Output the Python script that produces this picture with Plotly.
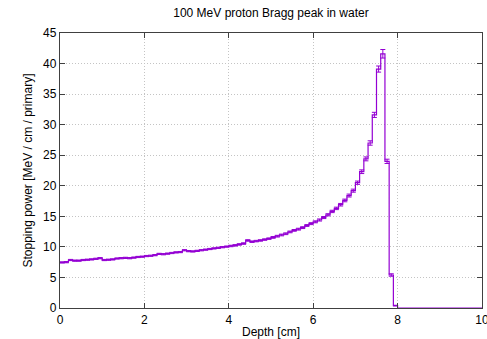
import plotly.graph_objects as go

# Bin left edges (cm), bin width 0.1 cm, 0..10 cm
bin_width = 0.1
n_bins = 100
depth_edges = [round(i * bin_width, 1) for i in range(n_bins + 1)]

# Stopping power per bin [MeV / cm / primary]
stopping = [
    7.45, 7.50, 7.85, 7.75, 7.75, 7.85, 7.90, 7.95, 8.05, 8.15,
    7.85, 7.90, 7.95, 8.10, 8.15, 8.20, 8.15, 8.25, 8.35, 8.40,
    8.50, 8.55, 8.65, 8.85, 8.80, 8.90, 9.00, 9.10, 9.15, 9.45,
    9.30, 9.25, 9.35, 9.45, 9.55, 9.65, 9.75, 9.85, 9.95, 10.05,
    10.15, 10.25, 10.40, 10.55, 11.05, 10.85, 10.95, 11.05, 11.20, 11.35,
    11.55, 11.75, 11.95, 12.15, 12.45, 12.70, 12.90, 13.15, 13.50, 13.80,
    14.10, 14.40, 14.80, 15.25, 15.80, 16.30, 16.90, 17.60, 18.40, 19.20,
    20.50, 22.30, 24.40, 27.00, 31.60, 39.10, 41.60, 24.00, 5.40, 0.40,
    0, 0, 0, 0, 0, 0, 0, 0, 0, 0,
    0, 0, 0, 0, 0, 0, 0, 0, 0, 0,
]

# Statistical error per bin
errors = [
    0.10, 0.10, 0.10, 0.10, 0.10, 0.10, 0.10, 0.10, 0.10, 0.10,
    0.10, 0.10, 0.10, 0.10, 0.10, 0.10, 0.10, 0.10, 0.10, 0.10,
    0.10, 0.10, 0.10, 0.10, 0.10, 0.10, 0.10, 0.10, 0.10, 0.10,
    0.10, 0.10, 0.10, 0.10, 0.10, 0.10, 0.10, 0.10, 0.10, 0.10,
    0.12, 0.12, 0.12, 0.12, 0.12, 0.12, 0.12, 0.12, 0.12, 0.12,
    0.14, 0.14, 0.14, 0.14, 0.14, 0.14, 0.15, 0.15, 0.15, 0.16,
    0.16, 0.17, 0.17, 0.18, 0.19, 0.20, 0.21, 0.22, 0.24, 0.25,
    0.27, 0.30, 0.32, 0.36, 0.42, 0.50, 0.70, 0.35, 0.20, 0.05,
    0, 0, 0, 0, 0, 0, 0, 0, 0, 0,
    0, 0, 0, 0, 0, 0, 0, 0, 0, 0,
]

x_ticks = [0, 2, 4, 6, 8, 10]
y_ticks = [0, 5, 10, 15, 20, 25, 30, 35, 40, 45]

color = "#9400D3"
font = "Liberation Sans, Arial, sans-serif"

bin_centers = [e + bin_width / 2 for e in depth_edges[:-1]]

fig = go.Figure()
# histogram steps
fig.add_trace(go.Scatter(
    x=depth_edges, y=stopping + [stopping[-1]],
    mode="lines", line=dict(color=color, width=1.2, shape="hv"),
    hoverinfo="skip", showlegend=False,
))
# error bars at bin centres
mask = [i for i in range(n_bins) if errors[i] > 0]
fig.add_trace(go.Scatter(
    x=[bin_centers[i] for i in mask], y=[stopping[i] for i in mask],
    mode="markers", marker=dict(size=0.1, color=color),
    error_y=dict(type="data", array=[errors[i] for i in mask],
                 color=color, thickness=1, width=2.5),
    showlegend=False,
))

axis_common = dict(
    showline=True, linecolor="#404040", linewidth=1.3, mirror="ticks",
    ticks="inside", ticklen=5, tickcolor="#404040", tickwidth=1,
    showgrid=True, gridcolor="#c4c4c4", griddash="1px,2px", gridwidth=1,
    zeroline=False, tickfont=dict(family=font, size=12, color="#000"),
    layer="above traces", ticklabeloverflow="allow", automargin=False,
)

fig.update_layout(
    width=487, height=339,
    margin=dict(l=60, r=5, t=33, b=31),
    paper_bgcolor="white", plot_bgcolor="white",
    title=dict(text="100 MeV proton Bragg peak in water",
               font=dict(family=font, size=12, color="#000"),
               x=0.5, xref="paper", xanchor="center",
               y=1, yref="container", yanchor="top", pad=dict(t=9)),
    xaxis=dict(range=[0, 10], tickvals=x_ticks,
               title=dict(text="Depth [cm]", standoff=2,
                          font=dict(family=font, size=12, color="#000")),
               **axis_common),
    yaxis=dict(range=[0, 45], tickvals=y_ticks,
               title=dict(text="Stopping power [MeV / cm / primary]", standoff=7,
                          font=dict(family=font, size=12, color="#000")),
               **axis_common),
)

fig.write_html("out.html")
